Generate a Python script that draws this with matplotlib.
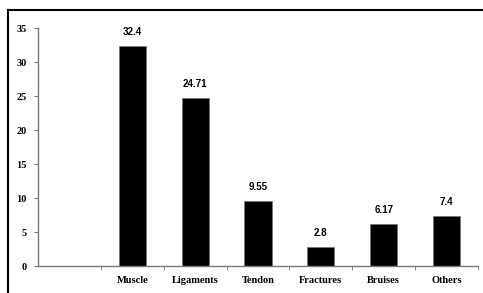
import matplotlib
matplotlib.use("Agg")
import matplotlib.pyplot as plt
from matplotlib.lines import Line2D

# Injury types and percentages
categories = ["", "Muscle", "Ligaments", "Tendon", "Fractures", "Bruises", "Others"]
values = [0, 32.4, 24.71, 9.55, 2.8, 6.17, 7.4]
labels = ["", "32.4", "24.71", "9.55", "2.8", "6.17", "7.4"]
yticks = [0, 5, 10, 15, 20, 25, 30, 35]

fig = plt.figure(figsize=(4.83, 2.93), dpi=100)
ax = fig.add_axes([38 / 483, 1 - 266 / 293, 440 / 483, 238 / 293])

x = list(range(len(categories)))
ax.bar(x, values, width=0.43, color="black", edgecolor="#777777", linewidth=0.6)

for xi, v, lab in zip(x, values, labels):
    if lab:
        ax.text(xi, v + 1.3, lab, ha="center", va="bottom", fontsize=7,
                fontweight="bold", family="Liberation Sans")

ax.set_xlim(-0.5, len(categories) - 0.5)
ax.set_ylim(0, 35)
ax.set_yticks(yticks)
ax.set_yticklabels([str(t) for t in yticks], fontsize=7.5, fontweight="bold",
                   family="Liberation Serif")

# category labels centred, tick marks between categories
ax.set_xticks(x)
ax.set_xticklabels(categories, fontsize=7.5, fontweight="bold", family="Liberation Serif")
ax.tick_params(axis="x", length=0, pad=7)
ax.set_xticks([i + 0.5 for i in x], minor=True)
ax.tick_params(axis="x", which="minor", length=3, color="#777777", direction="out")
ax.tick_params(axis="y", length=3, color="#777777", direction="out", pad=5)

for side in ["top", "right"]:
    ax.spines[side].set_visible(False)
for side in ["left", "bottom"]:
    ax.spines[side].set_color("#777777")
    ax.spines[side].set_linewidth(1)

# outer frame (left and top only)
fig.add_artist(Line2D([8 / 483, 8 / 483], [0, 1 - 10 / 293], color="black", lw=1.5,
                      transform=fig.transFigure))
fig.add_artist(Line2D([8 / 483, 1], [1 - 10 / 293, 1 - 10 / 293], color="black", lw=1.5,
                      transform=fig.transFigure))

fig.savefig("out.png", dpi=100)
